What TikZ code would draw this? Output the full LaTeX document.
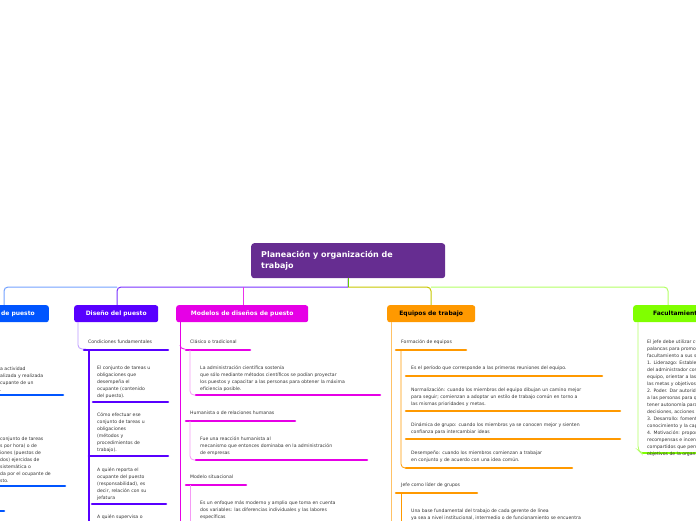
\documentclass[tikz,border=0pt]{standalone}
\usepackage{fontspec}
\setmainfont{DejaVu Sans}
\definecolor{root}{RGB}{102,45,145}
\definecolor{cblue}{RGB}{0,85,255}
\definecolor{cpurp}{RGB}{88,0,255}
\definecolor{cmag}{RGB}{230,0,230}
\definecolor{corg}{RGB}{255,153,0}
\definecolor{cgrn}{RGB}{128,255,0}
\tikzset{
 txt/.style={anchor=north west,inner sep=0,align=left,font=\fontsize{4.6}{7}\selectfont,text=black!80},
 ttl/.style={rounded corners=2.5pt,inner sep=0,minimum height=17pt,font=\bfseries\fontsize{6}{7}\selectfont},
 ul/.style={line width=2.6pt,line cap=round},
 thin/.style={line width=0.8pt,rounded corners=4pt},
}
\begin{document}
\begin{tikzpicture}[x=1pt,y=-1pt]
\useasboundingbox (0,0) rectangle (696,520);
\clip (0,0) rectangle (696,520);
% root
\node[fill=root,rounded corners=3pt,minimum width=194pt,minimum height=35pt,anchor=north west,inner sep=0] (root) at (251,243) {};
\node[anchor=north west,inner sep=0,align=left,text=white,font=\bfseries\fontsize{8}{11}\selectfont] (rt) at (261,251) {Planeación y organización de\\trabajo};
% top connectors
\coordinate (j) at (348,287);
\draw[line width=1pt,cpurp!70] (root.south) -- (j);
\draw[line width=1pt,cblue!55,rounded corners=4pt] (117,287) -- (4,287) -- (4,305);
\draw[line width=1pt,cpurp!80,rounded corners=4pt] (348,287) -- (117,287) -- (117,305);
\draw[line width=1pt,cmag!80,rounded corners=4pt] (243,287) -- (243,305);
\draw[line width=1pt,corg!55!cgrn,rounded corners=4pt] (348,287) -- (431,287) -- (431,305);
\draw[line width=1pt,cgrn!60,rounded corners=4pt] (431,287) -- (668,287) -- (668,305);
\draw[line width=1pt,cgrn!80!black] (348,278) -- (348,287);
% level 1 boxes
\node[ttl,fill=cblue,text=white,anchor=north east,minimum width=90pt] (b1) at (49,305) {\hfill Análisis de puesto\hspace{6pt}};
\node[ttl,fill=cpurp,text=white,anchor=north west,minimum width=84pt] (b2) at (74,305) {Diseño del puesto};
\node[ttl,fill=cmag,text=white,anchor=north west,minimum width=132pt] (b3) at (176,305) {Modelos de diseños de puesto};
\node[ttl,fill=corg,text=black,anchor=north west,minimum width=88pt] (b4) at (387,305) {Equipos de trabajo};
\node[ttl,fill=cgrn,text=black,anchor=north west,minimum width=80pt] (b5) at (633,305) {\hspace{8pt}Facultamiento\hfill};
% ---- left cut branch
\node[txt] (l1) at (0,367) {a actividad\\alizada y realizada\\cupante de un\\.};
\draw[ul,cblue] (-5,395) -- (63,395);
\node[txt] (l2) at (0,437) {conjunto de tareas\\s por hora) o de\\iones (puestos de\\dos) ejercidas de\\sistemática o\\da por el ocupante de\\sto.};
\draw[ul,cblue] (-5,486) -- (65,486);
\draw[ul,cblue] (-5,511) -- (4,511);
% ---- Diseño del puesto
\draw[thin,cpurp!40] (78,322) -- (78,349) -- (86,349);
\node[txt] (d0) at (88,340) {Condiciones fundamentales};
\draw[ul,cpurp] (84,350) -- (168,350);
\draw[line width=2.2pt,cpurp] (89,350) -- (89,525);
\node[txt] (d1) at (97,366) {El conjunto de tareas u\\obligaciones que\\desempeña el\\ocupante (contenido\\del puesto).};
\draw[ul,cpurp] (93,402) -- (168,402);
\node[txt] (d2) at (97,413) {Cómo efectuar ese\\conjunto de tareas u\\obligaciones\\(métodos y\\procedimientos de\\trabajo).};
\draw[ul,cpurp] (89,456) -- (168,456);
\node[txt] (d3) at (97,468) {A quién reporta el\\ocupante del puesto\\(responsabilidad), es\\decir, relación con su\\jefatura};
\draw[ul,cpurp] (92,504) -- (166,504);
\node[txt] (d4) at (97,515) {A quién supervisa o};
% ---- Modelos
\draw[line width=1pt,cmag] (180,322) -- (180,525);
\draw[thin,cmag] (180,345) -- (180,349) -- (185,349);
\node[txt] (m1) at (190,340) {Clásico o tradicional};
\draw[ul,cmag] (186,350) -- (250,350);
\draw[thin,cmag!40] (190,350) -- (190,395) -- (196,395);
\node[txt] (m1t) at (200,366) {La administración científica sostenía\\que sólo mediante métodos científicos se podían proyectar\\los puestos y capacitar a las personas para obtener la máxima\\eficiencia posible.};
\draw[ul,cmag] (196,395) -- (380,395);
\node[txt] (m2) at (190,411) {Humanista o de relaciones humanas};
\draw[ul,cmag] (186,421) -- (295,421);
\draw[thin,cmag!40] (190,421) -- (190,460) -- (196,460);
\node[txt] (m2t) at (200,437) {Fue una reacción humanista al\\mecanismo que entonces dominaba en la administración\\de empresas};
\draw[ul,cmag] (196,460) -- (367,460);
\node[txt] (m3) at (190,475) {Modelo situacional};
\draw[ul,cmag] (186,485) -- (246,485);
\draw[thin,cmag!40] (190,485) -- (190,525);
\node[txt] (m3t) at (200,501) {Es un enfoque más moderno y amplio que toma en cuenta\\dos variables: las diferencias individuales y las labores\\específicas};
% ---- Equipos
\draw[line width=1pt,corg!60] (391,322) -- (391,525);
\node[txt] (e1) at (401,340) {Formación de equipos};
\draw[ul,corg] (396,350) -- (466,350);
\draw[thin,corg] (401,350) -- (401,468) -- (406,468);
\node[txt] (e1a) at (411,366) {Es el período que corresponde a las primeras reuniones del equipo.};
\draw[ul,corg] (406,376) -- (602,376);
\node[txt] (e1b) at (411,388) {Normalización: cuando los miembros del equipo dibujan un camino mejor\\para seguir; comienzan a adoptar un estilo de trabajo común en torno a\\las mismas prioridades y metas.};
\draw[ul,corg] (406,411) -- (620,411);
\node[txt] (e1c) at (411,423) {Dinámica de grupo: cuando los miembros ya se conocen mejor y sienten\\confianza para intercambiar ideas};
\draw[ul,corg] (406,439) -- (620,439);
\node[txt] (e1d) at (411,451) {Desempeño: cuando los miembros comienzan a trabajar\\en conjunto y de acuerdo con una idea común.};
\draw[ul,corg] (406,468) -- (572,468);
\node[txt] (e2) at (401,483) {Jefe como líder de grupos};
\draw[ul,corg] (396,493) -- (477,493);
\draw[thin,corg] (401,493) -- (401,525);
\node[txt] (e2a) at (411,509) {Una base fundamental del trabajo de cada gerente de línea\\ ya sea a nivel institucional, intermedio o de funcionamiento se encuentra};
% ---- Facultamiento
\draw[line width=0.8pt,cgrn!60,rounded corners=4pt] (710,453) -- (641,453) -- (638,450) -- (638,322);
\draw[ul,cgrn] (643,453) -- (710,453);
\node[txt] (f1) at (647,340) {El jefe debe utilizar cuatro\\palancas para promover el\\facultamiento a sus subordinados:\\1. Liderazgo: Establecer el papel\\del administrador como líder del\\equipo, orientar a las personas hacia\\las metas y objetivos.\\2. Poder. Dar autoridad y responsabilidad\\a las personas para que puedan\\tener autonomía para tomar\\decisiones, acciones y recursos.\\3. Desarrollo: fomentar el\\conocimiento y la capacitación.\\4. Motivación: proporcionar\\recompensas e incentivos\\compartidos que permitan lograr los\\objetivos de la organización.};
\end{tikzpicture}
\end{document}
